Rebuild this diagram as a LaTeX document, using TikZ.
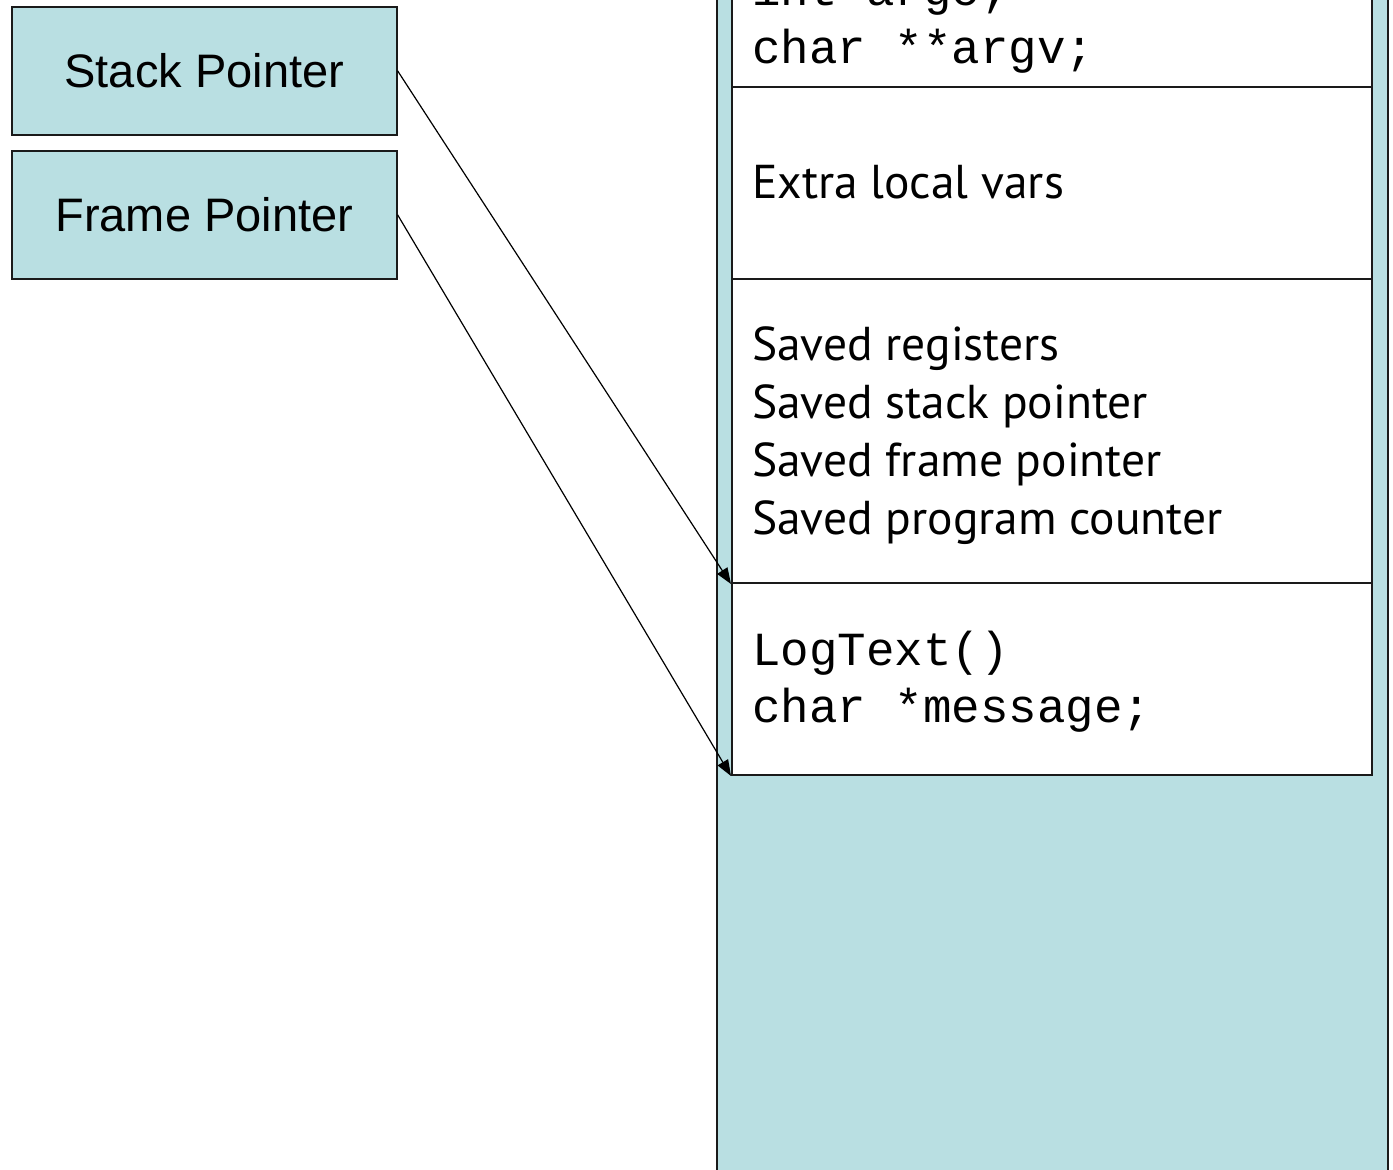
\documentclass[tikz,border=0pt]{standalone}
\usepackage{fontspec}
\setmainfont{Liberation Sans}
\newfontfamily\monofont{Liberation Mono}
\newfontfamily\humfont{PT Sans}
\usetikzlibrary{arrows.meta}
\definecolor{stackblue}{HTML}{B9DFE2}
\definecolor{edgegray}{HTML}{1A1A1A}
\tikzset{
  stackrect/.style={draw=edgegray, line width=2pt, fill=stackblue, rectangle, inner sep=0pt, anchor=north west},
  framebox/.style={draw=edgegray, line width=2pt, fill=white, rectangle, inner sep=0pt, anchor=north west, minimum width=640pt},
  ptrbox/.style={draw=edgegray, line width=1.6pt, fill=stackblue, rectangle, inner sep=0pt, anchor=north west, minimum width=385pt, minimum height=128pt, font=\fontsize{47}{52}\selectfont},
  codetext/.style={anchor=base west, inner sep=0pt, font=\monofont\fontsize{47.5}{58}\selectfont},
  humtext/.style={anchor=base west, inner sep=0pt, font=\humfont\fontsize{47.5}{58}\selectfont},
  ptrarrow/.style={draw=black, line width=1.2pt, -{Triangle[length=16pt,width=12pt]}}
}
\begin{document}
\begin{tikzpicture}[x=1pt,y=-1pt]
\useasboundingbox (0,0) rectangle (1393,1170);
\clip (0,0) rectangle (1393,1170);
\fill[white] (0,0) rectangle (1393,1170);
\node[stackrect, minimum width=671pt, minimum height=1230pt] (stack) at (716,-30) {};
\node[framebox, minimum height=116pt] (args) at (731,-30) {};
\node[framebox, minimum height=192pt] (locals) at (731,86) {};
\node[framebox, minimum height=304pt] (saved) at (731,278) {};
\node[framebox, minimum height=192pt] (logtext) at (731,582) {};
\node[codetext] (argstext1) at (752,5) {int argc;};
\node[codetext] (argstext2) at (752,63) {char **argv;};
\node[humtext] (localstext) at (752,198) {Extra local vars};
\node[humtext] (savedtext1) at (752,360) {Saved registers};
\node[humtext] (savedtext2) at (752,418) {Saved stack pointer};
\node[humtext] (savedtext3) at (752,476) {Saved frame pointer};
\node[humtext] (savedtext4) at (752,534) {Saved program counter};
\node[codetext] (logtexttext1) at (752,665) {LogText()};
\node[codetext] (logtexttext2) at (752,722) {char *message;};
\node[ptrbox] (sp) at (11,6) {Stack Pointer};
\node[ptrbox] (fp) at (11,150) {Frame Pointer};
\draw[ptrarrow] (sp.east) -- (saved.south west);
\draw[ptrarrow] (fp.east) -- (logtext.south west);
\end{tikzpicture}
\end{document}
